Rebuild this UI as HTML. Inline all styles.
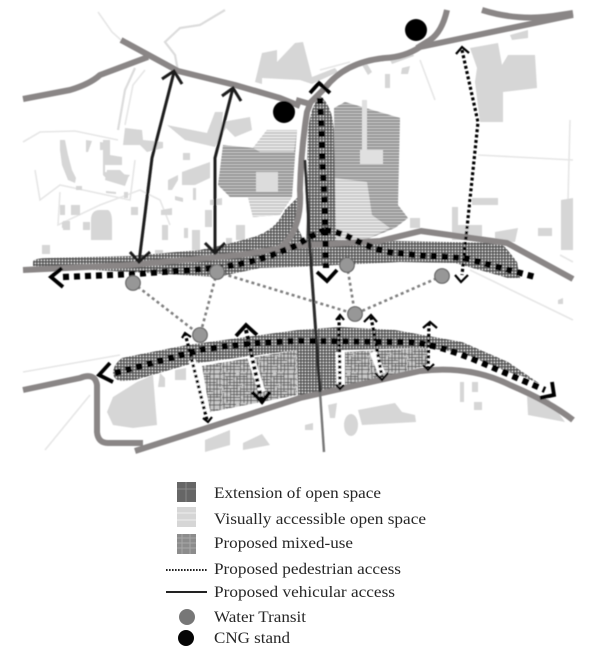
<!DOCTYPE html>
<html>
<head>
<meta charset="utf-8">
<style>
html,body{margin:0;padding:0;background:#fff;width:600px;height:660px;overflow:hidden}
svg{display:block}
text{font-family:"Liberation Serif",serif;font-size:15.6px;fill:#262626}
</style>
</head>
<body>
<svg width="600" height="660" viewBox="0 0 600 660" xmlns="http://www.w3.org/2000/svg">
<defs>
<pattern id="grid" width="3" height="3" patternUnits="userSpaceOnUse">
<rect width="3" height="3" fill="#e8e8e8"/>
<path d="M0 .9H3M.9 0V3" stroke="#4f4f4f" stroke-width="1.5"/>
</pattern>
<pattern id="hatch" width="3" height="3" patternUnits="userSpaceOnUse">
<rect width="3" height="3" fill="#c0c0c0"/>
<path d="M0 1H3" stroke="#808080" stroke-width="1.2"/>
</pattern>
<pattern id="hatchL" width="3" height="3" patternUnits="userSpaceOnUse">
<rect width="3" height="3" fill="#e6e6e6"/>
<path d="M0 1H3" stroke="#b4b4b4" stroke-width="1"/>
</pattern>
<pattern id="mix" width="37" height="31" patternUnits="userSpaceOnUse">
<rect width="37" height="31" fill="#c6c6c6"/>
<path d="M0 1.5H14M18 2H37M3 4.5H25M0 7.5H11M14 7H37M6 10.5H31M0 13.5H20M23 13H37M2 16.5H16M19 17H37M0 19.5H28M8 22.5H37M0 25.5H18M21 25H35M4 28.5H37" stroke="#5a5a5a" stroke-width="0.9"/>
<path d="M2 0V18M1.5 21V31M5 4V31M8 0V14M8.5 17V31M12 0V31M15 5V24M18 0V12M18.5 15V31M22 3V31M25 0V20M25.5 23V31M29 0V31M32 6V26M35 0V15M35.5 18V31" stroke="#5a5a5a" stroke-width="0.9"/>
</pattern>
<filter id="soft" x="-2%" y="-2%" width="104%" height="104%"><feGaussianBlur stdDeviation="0.4"/></filter>
</defs>

<g filter="url(#soft)">
<!-- thin context lines -->
<g fill="none" stroke="#e6e6e6" stroke-width="1.6">
<path d="M98,12 L112,32 L121,40"/>
<path d="M23,142 L40,132 L75,131 L118,140"/>
<path d="M145,70 L133,85 L125,125"/>
<path d="M35,170 L40,200 L60,185 L130,200 L135,160"/>
<path d="M60,192 L58,225 L100,205 L140,190 L160,200 L170,225"/>
<path d="M23,372 L120,355"/>
<path d="M45,450 L90,395"/>
<path d="M420,60 L435,100"/>
<path d="M478,155 L573,160"/>
<path d="M570,120 L568,200"/>
<path d="M470,270 L573,320"/>
<path d="M560,255 L573,262"/>
<path d="M320,70 L350,62"/>
</g>
<g fill="none" stroke="#dcdcdc" stroke-width="2.2">
<path d="M178,71 L175,55 L165,42 L180,28 L200,25 L225,10"/>
<path d="M135,68 L125,90 L118,130"/>
</g>

<!-- buildings -->
<g fill="#d6d6d6">
<polygon points="255,82 262,53 277,50 277,62 295,43 303,42 312,77 335,68 338,72 312,84 300,80 262,78 262,84"/>
<polygon points="125,128 142,130 143,140 163,142 163,148 147,152 140,145 123,145"/>
<polygon points="167,125 207,133 215,112 223,112 222,122 250,117 252,130 235,137 226,128 215,147 185,140"/>
<polygon points="183,153 190,153 190,160 183,160"/>
<polygon points="182,172 210,162 210,178 195,185 182,185"/>
<polygon points="168,180 178,175 178,180 172,190 168,190"/>
<polygon points="175,196 183,198 183,202 175,200"/>
<polygon points="193,188 196,188 196,200 193,200"/>
<polygon points="103,140 110,140 110,155 122,157 122,165 105,165 105,172 130,175 126,180 108,180 103,175"/>
<polygon points="86,140 92,141 88,152 86,152"/>
<polygon points="100,142 108,143 108,150 100,150"/>
<polygon points="107,170 120,170 128,178 125,186 105,180"/>
<polygon points="60,140 65,140 68,155 72,170 76,178 75,183 68,180 62,165 60,150"/>
<polygon points="76,186 82,186 82,190 76,190"/>
<polygon points="106,191 116,192 116,194 106,193"/>
<polygon points="124,192 128,192 128,198 124,198"/>
<polygon points="131,207 138,207 138,215 131,215"/>
<polygon points="71,205 80,205 80,215 71,215"/>
<polygon points="60,205 65,205 65,215 60,215"/>
<path d="M91,220 Q91,210 100,210 L108,210 Q112,212 112,222 L112,240 L91,240 Z"/>
<polygon points="83,222 90,222 90,230 83,230"/>
<polygon points="62,222 68,222 68,228 62,228"/>
<polygon points="42,245 50,245 50,254 42,254"/>
<polygon points="63,221 70,221 70,230 63,230"/>
<polygon points="161,210 172,208 172,215 161,215"/>
<polygon points="210,200 222,198 222,205 210,205"/>
<polygon points="205,210 212,210 212,227 205,227"/>
<polygon points="192,230 200,230 200,250 192,250"/>
<polygon points="236,225 245,225 245,240 236,240"/>
<polygon points="226,238 232,238 232,248 226,248"/>
<polygon points="155,250 163,250 163,255 155,255"/>
<polygon points="162,225 168,225 168,240 162,240"/>
<polygon points="184,228 188,228 188,238 184,238"/>
<polygon points="390,60 412,52 414,56 392,64"/>
<polygon points="362,65 366,62 372,72 368,75"/>
<polygon points="402,68 410,66 408,74 401,74"/>
<polygon points="385,74 390,74 390,88 385,88"/>
<polygon points="470,48 498,43 502,65 508,55 535,55 537,88 503,92 503,122 480,122 475,82 477,68"/>
<polygon points="510,35 528,30 528,38 512,40"/>
<polygon points="472,198 498,198 498,205 472,205"/>
<polygon points="561,200 573,198 573,250 561,250"/>
<polygon points="452,207 458,207 458,225 482,225 482,240 452,240"/>
<polygon points="495,232 518,228 515,242 495,242"/>
<polygon points="538,228 552,228 552,236 538,236"/>
<polygon points="410,218 420,218 420,228 410,228"/>
<polygon points="558,300 563,298 563,304 558,304"/>
<polygon points="113,397 137,382 153,375 157,425 133,428 113,425 107,412"/>
<polygon points="175,370 186,368 186,380 175,380"/>
<polygon points="160,373 165,378 165,387 158,387"/>
<ellipse cx="351" cy="425" rx="7" ry="11"/>
<polygon points="358,410 395,403 402,412 415,415 416,422 362,425"/>
<polygon points="328,405 337,403 335,418 330,418"/>
<polygon points="305,425 313,423 313,430 305,430"/>
<polygon points="460,382 464,382 464,402 460,402"/>
<polygon points="472,382 478,382 478,392 472,392"/>
<polygon points="474,402 482,402 482,410 474,410"/>
<polygon points="527,395 548,398 565,422 528,415"/>
<polygon points="205,440 230,430 230,445 205,452"/>
<polygon points="243,443 262,434 270,445 243,450"/>
</g>

<!-- horizontal-hatched open space -->
<polygon points="223,145 253,148 267,130 297,130 292,197 280,215 253,217 248,197 230,197 218,185" fill="url(#hatch)"/>
<polygon points="253,148 267,130 297,130 294,152 260,152" fill="url(#hatchL)"/>
<polygon points="248,197 292,197 280,215 253,217" fill="url(#hatchL)"/>
<rect x="256" y="172" width="22" height="20" fill="#dcdcdc"/>
<polygon points="334,108 345,102 400,118 398,205 408,218 395,228 365,240 335,240" fill="url(#hatch)"/>
<rect x="360" y="150" width="23" height="14" fill="#e0e0e0"/>
<polygon points="335,178 367,182 372,215 390,228 365,240 335,240" fill="url(#hatchL)"/>
<rect x="362" y="100" width="5" height="50" fill="#e0e0e0"/>

<!-- grid bands -->
<path d="M33,262 Q33,258 50,258 L130,256 L200,250 Q225,245 250,238 Q275,232 285,210 L298,197 L297,225 L305,243 L308,130 Q311,105 320,96 Q332,105 334,130 L336,240 L400,241 L500,243 L506,248 L517,262 L520,278 L508,278 L455,263 L400,262 L338,265 L295,267 L260,268 L217,277 L130,272 L60,268 L33,266 Z" fill="url(#grid)"/>
<path d="M297,226 L300,200 L302,160 L308,160 L306,243 Z" fill="#fff"/>

<!-- mixed use -->
<polygon points="202,366 297,350 297,395 210,412" fill="url(#mix)"/>
<polygon points="345,352 428,348 428,365 382,378 345,385" fill="url(#mix)"/>

<path d="M113,372 Q114,364 122,358 L187,345 L298,330 L340,327 L395,330 L462,342 L508,362 L540,384 L522,376 L508,372 L462,353 L428,348 L340,350 L340,390 L298,399 L297,350 L190,364 L135,380 L122,381 Q113,380 113,372 Z" fill="url(#grid)"/>

<!-- roads -->
<g fill="none" stroke="#8a8686" stroke-width="6" stroke-linejoin="round">
<path d="M23,99 L70,90 Q90,84 100,75 L148,57"/>
<path d="M121,40 L178,71 L235,85 L280,98 L300,106"/>
<path d="M296,100 L310,104 L307,112 Q301,150 300,190 Q302,222 288,240 L280,248"/>
<path d="M310,103 L325,88 Q345,62 385,58 Q405,57 420,47 L573,15"/>
<path d="M447,10 Q442,32 430,40 L417,48"/>
<path d="M482,10 Q520,22 560,15 L573,13"/>
<path d="M23,270 L130,265 L240,255 L295,246 L380,241 L421,231 L507,243 L573,279"/>
<path d="M23,390 L80,378 Q95,372 97,385 L97,432 Q98,443 108,443 L143,443"/>
<path d="M135,451 L185,435 L300,398 L420,371 Q470,365 510,385 Q550,402 573,420"/>
</g>

<!-- vehicular -->
<g fill="none" stroke="#1e1e1e" stroke-width="3">
<path d="M139,262 L152,158 L174,72"/>
<path d="M162,79 L174,71 L182,84"/>
<path d="M130,252 L139,262 L150,252"/>
<path d="M215,253 L215,158 L233,88"/>
<path d="M222,96 L233,88 L241,101"/>
<path d="M205,243 L215,253 L225,243"/>
<path d="M305,160 L310,250 L320,392" stroke="#2a2a2a"/>
</g>
<path d="M320,392 L324,452" stroke="#777" stroke-width="2.4" fill="none"/>

<!-- water transit links -->
<g fill="none" stroke="#808080" stroke-width="2.6" stroke-dasharray="3 3">
<path d="M133,283 L200,335"/>
<path d="M217,272 L200,335"/>
<path d="M217,272 L355,314"/>
<path d="M347,265 L355,314"/>
<path d="M442,276 L355,314"/>
</g>

<!-- white halos -->
<g fill="none" stroke="#fff" stroke-width="7">
<path d="M192,360 L207,412"/>
<path d="M250,355 L262,392"/>
<path d="M339,352 L340,384"/>
<path d="M373,352 L382,374"/>
</g>

<!-- thick dots -->
<g fill="none" stroke="#000" stroke-width="6.2" stroke-dasharray="6 5">
<path d="M63,277 L135,274 L217,268 Q260,262 297,245 Q312,235 325,230"/>
<path d="M325,230 Q340,232 355,240 Q375,250 395,253 L428,256 L465,258 L535,277"/>
<path d="M320,98 L325,218 L326,268"/>
<path d="M115,373 L200,350 Q250,342 300,341 L410,342 Q440,345 480,362 L545,390"/>
</g>

<!-- small dots -->
<g fill="none" stroke="#000" stroke-width="3.2" stroke-dasharray="3 2.4">
<path d="M462,50 L478,122 L467,228 L462,275"/>
<path d="M185,333 L207,420"/>
<path d="M339,317 L340,388"/>
<path d="M371,317 L382,377"/>
<path d="M429,323 L428,368"/>
</g>
<path d="M246,330 L262,402" fill="none" stroke="#000" stroke-width="4" stroke-dasharray="3.4 2.8"/>

<!-- arrow heads -->
<g fill="none" stroke="#000" stroke-width="3.8">
<path d="M310,93 L319,83 L330,93"/>
<path d="M317,272 L327,281 L337,270"/>
<path d="M62,268 L51,277 L63,287"/>
<path d="M110,363 L99,375 L113,382"/>
<path d="M552,382 L554,395 L540,398"/>
<path d="M236,336 L246,325 L257,335"/>
<path d="M252,392 L262,402 L270,392"/>
</g>
<g fill="none" stroke="#000" stroke-width="2.2">
<path d="M456,54 L462,47 L469,53"/>
<path d="M455,275 L461,282 L468,275"/>
<path d="M182,338 L185,333 L191,337"/>
<path d="M203,418 L208,422 L212,417"/>
<path d="M336,320 L340,315 L344,320"/>
<path d="M336,385 L340,389 L344,385"/>
<path d="M364,322 L371,315 L377,322"/>
<path d="M375,373 L382,380 L388,373"/>
<path d="M423,328 L430,322 L437,328"/>
<path d="M423,365 L428,370 L434,364"/>
</g>

<!-- markers -->
<g fill="#979797" stroke="#666" stroke-width="1.2">
<circle cx="133" cy="283" r="7.3"/>
<circle cx="217" cy="272" r="7.3"/>
<circle cx="200" cy="335" r="7.3"/>
<circle cx="355" cy="314" r="7.3"/>
<circle cx="347" cy="265" r="7.3"/>
<circle cx="442" cy="276" r="7.3"/>
</g>
<circle cx="284" cy="112" r="11" fill="#000"/>
<circle cx="416" cy="30" r="11" fill="#000"/>
</g>

<!-- legend -->
<rect x="177" y="482" width="19" height="20" fill="#666"/>
<path d="M177,489H196M186,482V502" stroke="#888" stroke-width="1"/>
<rect x="177" y="507" width="19" height="20" fill="#d6d6d6"/>
<path d="M177,513H196M177,520H196" stroke="#eee" stroke-width="1"/>
<rect x="177" y="534" width="19" height="20" fill="#8c8c8c"/>
<path d="M177,538H196M177,543H196M177,548H196M182,534V554M190,534V554" stroke="#a8a8a8" stroke-width="1"/>
<path d="M166,570 H207" stroke="#222" stroke-width="2" stroke-dasharray="1.6 1.4"/>
<path d="M166,592 H207" stroke="#222" stroke-width="2"/>
<circle cx="187" cy="617" r="8" fill="#777"/>
<circle cx="186" cy="638" r="8" fill="#050505"/>
<text x="214" y="498" textLength="167" lengthAdjust="spacingAndGlyphs">Extension of open space</text>
<text x="214" y="524" textLength="212" lengthAdjust="spacingAndGlyphs">Visually accessible open space</text>
<text x="214" y="548" textLength="139" lengthAdjust="spacingAndGlyphs">Proposed mixed-use</text>
<text x="214" y="574" textLength="187" lengthAdjust="spacingAndGlyphs">Proposed pedestrian access</text>
<text x="214" y="597" textLength="181" lengthAdjust="spacingAndGlyphs">Proposed vehicular access</text>
<text x="214" y="622" textLength="92" lengthAdjust="spacingAndGlyphs">Water Transit</text>
<text x="214" y="643" textLength="76" lengthAdjust="spacingAndGlyphs">CNG stand</text>
</svg>
</body>
</html>
